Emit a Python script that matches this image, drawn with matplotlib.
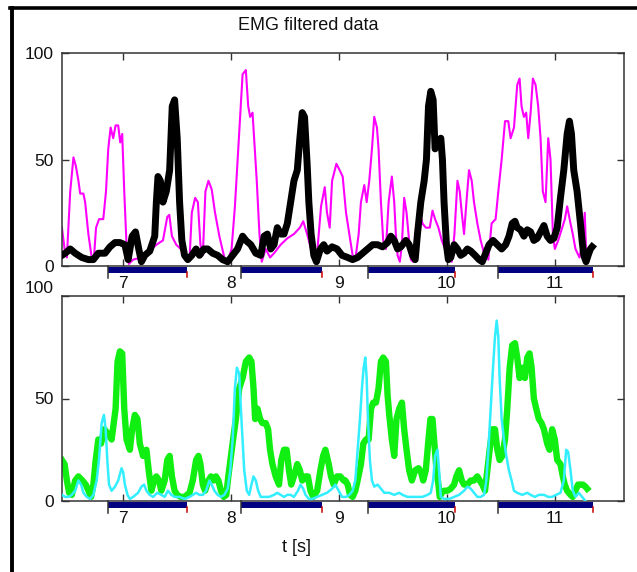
import numpy as np
import matplotlib
matplotlib.use("Agg")
import matplotlib.pyplot as plt
from matplotlib.lines import Line2D

plt.rcParams['font.family'] = ['Liberation Sans', 'DejaVu Sans']

# top panel, magenta trace (t [s], value)
mag_t = [6.439, 6.464, 6.485, 6.516, 6.546, 6.568, 6.592, 6.608, 6.638, 6.654, 6.684, 6.715, 6.733,
         6.755, 6.783, 6.822, 6.847, 6.868, 6.890, 6.914, 6.936, 6.960, 6.979, 6.997, 7.016, 7.037,
         7.059, 7.098, 7.175, 7.252, 7.313, 7.374, 7.414, 7.433, 7.457, 7.497, 7.559, 7.620, 7.641,
         7.672, 7.697, 7.721, 7.743, 7.767, 7.795, 7.825, 7.856, 7.896, 7.942, 7.973, 8.009, 8.040,
         8.071, 8.111, 8.141, 8.163, 8.181, 8.203, 8.218, 8.242, 8.267, 8.288, 8.325, 8.365, 8.402,
         8.463, 8.525, 8.586, 8.641, 8.672, 8.708, 8.755, 8.794, 8.837, 8.871, 8.892, 8.917, 8.939,
         8.979, 9.009, 9.037, 9.068, 9.099, 9.129, 9.154, 9.185, 9.206, 9.237, 9.259, 9.283, 9.308,
         9.329, 9.354, 9.369, 9.391, 9.412, 9.437, 9.462, 9.492, 9.514, 9.529, 9.545, 9.566, 9.585,
         9.606, 9.628, 9.646, 9.668, 9.689, 9.720, 9.751, 9.775, 9.806, 9.843, 9.868, 9.892, 9.923,
         9.954, 9.985, 10.015, 10.046, 10.071, 10.099, 10.120, 10.139, 10.160, 10.182, 10.206, 10.231,
         10.252, 10.283, 10.314, 10.345, 10.385, 10.415, 10.452, 10.477, 10.508, 10.539, 10.569,
         10.591, 10.622, 10.652, 10.674, 10.692, 10.714, 10.735, 10.754, 10.776, 10.797, 10.822,
         10.846, 10.868, 10.889, 10.914, 10.939, 10.960, 10.982, 11.000, 11.031, 11.068, 11.093,
         11.114, 11.145, 11.166, 11.191, 11.228, 11.259, 11.277, 11.292]
mag_v = [18, 8, 4, 35, 51, 47, 40, 34, 34, 30, 15, 4, 2,
         18, 22, 22, 35, 55, 65, 60, 66, 66, 58, 62, 35, 10,
         1, 3, 4, 7, 10, 12, 23, 24, 14, 10, 7, 3, 25,
         32, 30, 10, 5, 35, 40, 36, 25, 14, 4, 2, 8, 28,
         55, 90, 92, 75, 70, 72, 60, 40, 15, 2, 8, 4, 6,
         10, 13, 15, 18, 21, 15, 6, 2, 28, 37, 25, 18, 40,
         48, 45, 42, 25, 15, 5, 3, 15, 30, 38, 30, 40, 55,
         70, 65, 55, 30, 12, 8, 30, 42, 30, 15, 5, 2, 10,
         32, 25, 15, 3, 2, 15, 25, 20, 18, 18, 26, 22, 18,
         12, 8, 5, 2, 15, 40, 35, 25, 15, 30, 45, 40,
         30, 20, 12, 6, 3, 20, 22, 35, 50, 68, 68,
         60, 65, 85, 88, 75, 70, 72, 60, 72, 88, 85,
         75, 60, 35, 30, 60, 50, 15, 8, 12, 18, 22,
         28, 20, 15, 8, 4, 12, 25, 2]

# top panel, black trace
blk_t = [6.439, 6.470, 6.516, 6.562, 6.623, 6.684, 6.730, 6.776, 6.838, 6.884, 6.930, 6.976, 7.022,
         7.052, 7.089, 7.120, 7.150, 7.175, 7.206, 7.252, 7.298, 7.313, 7.328, 7.350, 7.374, 7.405,
         7.436, 7.460, 7.482, 7.506, 7.528, 7.549, 7.574, 7.604, 7.641, 7.681, 7.712, 7.752, 7.788,
         7.834, 7.880, 7.926, 7.973, 8.019, 8.064, 8.111, 8.141, 8.187, 8.233, 8.279, 8.310, 8.340,
         8.371, 8.402, 8.432, 8.463, 8.494, 8.525, 8.555, 8.586, 8.617, 8.641, 8.663, 8.684, 8.708,
         8.724, 8.745, 8.770, 8.794, 8.831, 8.862, 8.892, 8.939, 8.985, 9.031, 9.083, 9.129, 9.175,
         9.222, 9.268, 9.314, 9.360, 9.406, 9.452, 9.483, 9.514, 9.545, 9.575, 9.622, 9.652, 9.683,
         9.708, 9.729, 9.760, 9.791, 9.812, 9.831, 9.852, 9.874, 9.892, 9.914, 9.945, 9.960, 9.975,
         9.997, 10.015, 10.037, 10.068, 10.099, 10.129, 10.160, 10.191, 10.222, 10.262, 10.299,
         10.329, 10.360, 10.391, 10.428, 10.468, 10.508, 10.545, 10.576, 10.606, 10.631, 10.652,
         10.683, 10.714, 10.745, 10.776, 10.806, 10.837, 10.868, 10.899, 10.929, 10.960, 10.991,
         11.022, 11.052, 11.083, 11.114, 11.135, 11.154, 11.175, 11.206, 11.237, 11.252, 11.268,
         11.289, 11.308, 11.329, 11.345]
blk_v = [5, 6, 8, 6, 4, 3, 3, 6, 6, 9, 11, 11, 10,
         3, 14, 16, 8, 2, 5, 7, 14, 30, 42, 40, 30, 35,
         45, 75, 78, 60, 30, 12, 5, 3, 5, 8, 5, 8, 8,
         6, 5, 3, 2, 5, 8, 14, 12, 10, 6, 5, 14, 15,
         8, 10, 18, 15, 15, 20, 30, 40, 45, 60, 72, 70, 48,
         30, 15, 5, 2, 8, 10, 7, 9, 8, 5, 4, 3, 4,
         6, 8, 10, 10, 9, 11, 14, 12, 8, 9, 12, 10, 5,
         3, 15, 30, 40, 50, 75, 82, 78, 55, 58, 60, 50, 30,
         10, 3, 4, 10, 8, 5, 6, 8, 7, 5, 3,
         2, 6, 10, 12, 10, 8, 10, 14, 20, 21, 18,
         17, 14, 17, 16, 12, 13, 16, 19, 14, 12, 13,
         18, 32, 45, 62, 68, 62, 45, 35, 20, 12, 5,
         2, 5, 8, 9]

# bottom panel, green trace
grn_t = [6.439, 6.464, 6.485, 6.506, 6.531, 6.562, 6.592, 6.629, 6.660, 6.684, 6.709, 6.730, 6.752,
         6.776, 6.801, 6.832, 6.862, 6.899, 6.936, 6.954, 6.976, 6.997, 7.016, 7.037, 7.068, 7.089,
         7.114, 7.138, 7.160, 7.190, 7.221, 7.242, 7.267, 7.292, 7.313, 7.338, 7.359, 7.390, 7.414,
         7.436, 7.457, 7.482, 7.506, 7.537, 7.574, 7.620, 7.650, 7.681, 7.703, 7.721, 7.743, 7.764,
         7.795, 7.819, 7.844, 7.865, 7.887, 7.911, 7.936, 7.960, 7.979, 8.003, 8.028, 8.049, 8.080,
         8.111, 8.141, 8.172, 8.193, 8.212, 8.227, 8.249, 8.273, 8.294, 8.325, 8.347, 8.365, 8.387,
         8.417, 8.448, 8.469, 8.494, 8.518, 8.540, 8.561, 8.586, 8.617, 8.641, 8.663, 8.693, 8.715,
         8.739, 8.764, 8.801, 8.831, 8.856, 8.877, 8.908, 8.929, 8.954, 8.985, 9.015, 9.046, 9.062,
         9.083, 9.105, 9.129, 9.154, 9.175, 9.206, 9.228, 9.252, 9.277, 9.299, 9.320, 9.345, 9.369,
         9.391, 9.412, 9.437, 9.452, 9.468, 9.492, 9.514, 9.535, 9.560, 9.585, 9.606, 9.628, 9.652,
         9.677, 9.708, 9.739, 9.763, 9.782, 9.806, 9.831, 9.849, 9.868, 9.886, 9.905, 9.923, 9.935,
         9.954, 9.975, 10.006, 10.037, 10.068, 10.089, 10.114, 10.139, 10.160, 10.191, 10.222,
         10.252, 10.283, 10.305, 10.329, 10.354, 10.375, 10.397, 10.422, 10.446, 10.468, 10.489,
         10.514, 10.539, 10.560, 10.582, 10.606, 10.631, 10.652, 10.674, 10.699, 10.723, 10.745,
         10.766, 10.785, 10.806, 10.828, 10.852, 10.877, 10.899, 10.929, 10.951, 10.975, 11.000,
         11.022, 11.052, 11.074, 11.092, 11.114, 11.145, 11.166, 11.191, 11.215, 11.237, 11.259,
         11.283, 11.299]
grn_v = [20, 18, 10, 4, 3, 10, 12, 10, 8, 5, 2, 8, 20,
         30, 28, 35, 33, 30, 45, 68, 73, 72, 45, 30, 25, 35,
         42, 40, 28, 22, 25, 15, 5, 10, 12, 10, 5, 10, 20,
         22, 12, 5, 3, 2, 2, 4, 10, 20, 22, 18, 8, 5,
         10, 12, 10, 12, 10, 5, 2, 3, 12, 22, 32, 40, 55,
         60, 68, 70, 68, 55, 40, 45, 40, 38, 38, 35, 25, 18,
         12, 8, 20, 25, 25, 15, 8, 12, 18, 15, 10, 12, 12,
         5, 2, 5, 15, 22, 25, 18, 12, 8, 12, 12, 10, 10,
         8, 3, 2, 5, 10, 18, 28, 30, 30, 45, 48, 48, 55,
         68, 70, 68, 52, 42, 30, 22, 40, 45, 48, 35, 25, 15,
         10, 15, 16, 14, 10, 15, 30, 40, 40, 28, 15, 8, 2,
         4, 5, 5, 6, 8, 12, 15, 10, 8, 8, 10,
         10, 12, 10, 8, 5, 15, 25, 35, 35, 25, 20,
         22, 30, 45, 65, 76, 77, 70, 60, 65, 60, 70,
         72, 65, 50, 45, 40, 38, 35, 28, 25, 35, 30,
         20, 18, 12, 8, 5, 3, 2, 5, 8, 8, 8,
         7, 6]

# bottom panel, cyan trace
cyn_t = [6.439, 6.470, 6.500, 6.531, 6.562, 6.592, 6.617, 6.638, 6.669, 6.700, 6.730, 6.761, 6.782,
         6.807, 6.828, 6.844, 6.859, 6.875, 6.899, 6.930, 6.960, 6.991, 7.006, 7.022, 7.046, 7.068,
         7.098, 7.144, 7.175, 7.200, 7.221, 7.252, 7.282, 7.322, 7.359, 7.390, 7.420, 7.451, 7.482,
         7.528, 7.574, 7.620, 7.650, 7.681, 7.712, 7.743, 7.773, 7.804, 7.825, 7.850, 7.880, 7.911,
         7.942, 7.973, 7.997, 8.019, 8.040, 8.058, 8.080, 8.095, 8.111, 8.126, 8.150, 8.172, 8.193,
         8.212, 8.233, 8.255, 8.279, 8.310, 8.356, 8.402, 8.432, 8.463, 8.494, 8.525, 8.555, 8.586,
         8.623, 8.647, 8.672, 8.693, 8.724, 8.755, 8.801, 8.847, 8.892, 8.939, 8.969, 9.000, 9.031,
         9.068, 9.099, 9.129, 9.154, 9.175, 9.197, 9.215, 9.231, 9.246, 9.259, 9.271, 9.289, 9.308,
         9.329, 9.360, 9.391, 9.422, 9.468, 9.514, 9.560, 9.591, 9.637, 9.683, 9.729, 9.775, 9.822,
         9.852, 9.874, 9.892, 9.914, 9.929, 9.945, 9.975, 10.022, 10.068, 10.114, 10.160, 10.191,
         10.222, 10.252, 10.283, 10.314, 10.345, 10.366, 10.385, 10.406, 10.428, 10.446, 10.462,
         10.477, 10.489, 10.508, 10.529, 10.551, 10.575, 10.600, 10.622, 10.652, 10.699, 10.745,
         10.776, 10.815, 10.852, 10.899, 10.939, 10.975, 11.012, 11.052, 11.083, 11.105, 11.123,
         11.145, 11.166, 11.191, 11.222, 11.252, 11.283]
cyn_v = [3, 2, 2, 3, 5, 10, 8, 4, 2, 1, 3, 10, 20,
         38, 42, 35, 20, 8, 5, 7, 10, 16, 14, 8, 3, 1,
         2, 4, 7, 8, 5, 3, 2, 4, 3, 2, 5, 3, 2,
         2, 1, 2, 3, 4, 3, 3, 5, 10, 8, 5, 3, 2,
         3, 6, 15, 30, 55, 65, 62, 45, 30, 15, 5, 3, 8,
         12, 10, 5, 2, 2, 2, 3, 4, 3, 2, 3, 3, 2,
         5, 8, 6, 3, 1, 1, 2, 3, 4, 6, 8, 5, 2,
         2, 3, 5, 10, 25, 40, 55, 65, 70, 60, 40, 20, 10,
         7, 8, 6, 4, 4, 3, 4, 3, 2, 2, 2, 2, 3,
         4, 10, 22, 25, 15, 2, 1, 1, 2, 3, 5, 7,
         6, 4, 2, 2, 3, 10, 25, 45, 65, 80, 88,
         80, 60, 40, 30, 22, 15, 10, 5, 4, 3, 4,
         3, 2, 3, 3, 2, 2, 3, 4, 10, 25, 24,
         15, 5, 2, 4, 2, 0]

# stimulation periods shown as bars under each panel
bar_start = [6.865, 8.10, 9.27, 10.47]
bar_end = [7.60, 8.85, 10.08, 11.35]

xticks = [7, 8, 9, 10, 11]
yticks = [0, 50, 100]

W, H = 637, 572
fig = plt.figure(figsize=(W / 100, H / 100), dpi=100)

ax1 = fig.add_axes([62 / W, 1 - 266 / H, 562 / W, 213 / H])
ax2 = fig.add_axes([62 / W, 1 - 501 / H, 562 / W, 205 / H])

ax1.plot(mag_t, mag_v, color='#ff00ff', lw=1.5, zorder=2)
ax1.plot(blk_t, blk_v, color='black', lw=5.0, zorder=3)
ax2.plot(grn_t, grn_v, color='#11ee11', lw=4.6, zorder=2)
ax2.plot(cyn_t, cyn_v, color='#33eeff', lw=1.8, zorder=3)

for ax in (ax1, ax2):
    ax.set_xlim(6.44, 11.64)
    ax.set_ylim(0, 100)
    ax.set_xticks(xticks)
    ax.set_yticks(yticks)
    ax.tick_params(direction='in', length=5, width=1, color='#333333',
                   top=True, right=True, labelsize=12.5, labelcolor='#111111')
    ax.tick_params(axis='x', pad=7)
    ax.tick_params(axis='y', pad=6)
    for sp in ax.spines.values():
        sp.set_color('#333333')
        sp.set_linewidth(1.1)

    # bars below the axis, in axes-fraction y
    h_px = ax.get_position().height * H
    tr = ax.get_xaxis_transform()
    yb = -3.5 / h_px
    for a, b in zip(bar_start, bar_end):
        ax.plot([a, b], [yb, yb], color='#000080', lw=4.3, solid_capstyle='butt',
                transform=tr, clip_on=False, zorder=5)
        ax.plot([a, a], [0, -12 / h_px], color='#333333', lw=1.1,
                transform=tr, clip_on=False, zorder=6)
        ax.plot([b, b], [-6 / h_px, -11 / h_px], color='#cc0000', lw=1.1,
                transform=tr, clip_on=False, zorder=6)

# the upper label of the lower panel sits above its tick
ax2.get_yticklabels()[-1].set_verticalalignment('bottom')

fig.text(308 / W, 1 - 25 / H, 'EMG filtered data', ha='center', va='center',
         fontsize=13, color='#111111')
fig.text(297 / W, 1 - 548 / H, 't [s]', ha='center', va='center',
         fontsize=13, color='#111111')

# outer frame (top and left edges only)
fig.add_artist(Line2D([10 / W, 1], [1 - 8 / H, 1 - 8 / H], color='black', lw=2.6,
                      transform=fig.transFigure))
fig.add_artist(Line2D([12 / W, 12 / W], [1 - 8 / H, 0], color='black', lw=2.8,
                      transform=fig.transFigure))

fig.savefig('out.png', dpi=100)
